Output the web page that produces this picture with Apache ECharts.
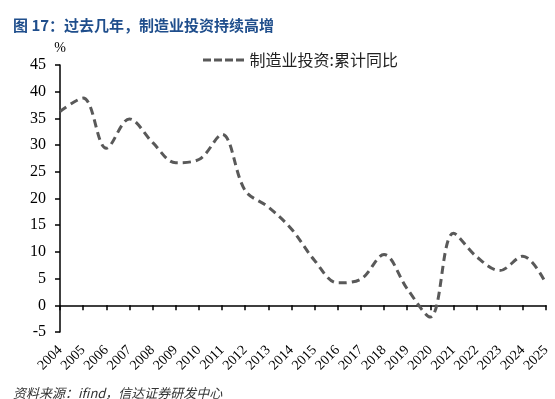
<!DOCTYPE html>
<html>
<head>
<meta charset="utf-8">
<script src="https://cdn.jsdelivr.net/npm/echarts@6/dist/echarts.min.js"></script>
<style>
  html, body { margin: 0; padding: 0; background: #fff; }
  #chart { width: 555px; height: 399px; }
</style>
</head>
<body>
<div id="chart"></div>
<script>
// 年份
const years = ['2004', '2005', '2006', '2007', '2008', '2009', '2010', '2011', '2012', '2013', '2014',
  '2015', '2016', '2017', '2018', '2019', '2020', '2021', '2022', '2023', '2024', '2025']
// 制造业投资:累计同比 (%)
const mfgInvest = [36.3, 38.8, 29.4, 34.9, 30.5, 26.7, 27.3, 32.0, 21.5, 18.4, 14.3,
  8.4, 4.2, 4.9, 9.5, 3.1, -2.2, 13.5, 9.1, 6.5, 9.2, 4.1]
const seriesName = '制造业投资:累计同比'

const chart = echarts.init(document.getElementById('chart'))

const serif = '"Liberation Serif", "Times New Roman", serif'
const cjk = '"Noto Sans CJK SC", sans-serif'
// 图例用的虚线图标
const dashIcon = 'path://M0,0h8v3h-8z M11,0h8v3h-8z M22,0h8v3h-8z M33,0h8v3h-8z'

const option = {
  animation: false,
  title: [{
    text: '图 17：过去几年，制造业投资持续高增',
    left: 8,
    top: 13,
    textStyle: {
      fontSize: 15,
      fontWeight: 'bold',
      color: '#1f4e8c',
      fontFamily: cjk
    }
  }, {
    text: '资料来源：ifind，信达证券研发中心',
    left: 8,
    top: 382,
    textStyle: {
      fontSize: 13,
      fontWeight: 'normal',
      fontStyle: 'italic',
      color: '#333',
      fontFamily: cjk
    }
  }],
  legend: {
    left: 198,
    top: 47,
    itemWidth: 42,
    itemHeight: 3,
    itemGap: 8,
    textStyle: {
      fontSize: 16,
      color: '#222',
      fontFamily: cjk
    },
    data: [{ name: seriesName, icon: dashIcon, itemStyle: { color: '#595959' } }]
  },
  grid: {
    left: 60,
    right: 9,
    top: 65,
    bottom: 67
  },
  xAxis: [{
    type: 'category',
    data: years,
    boundaryGap: false,
    position: 'bottom',
    axisLine: { show: false, onZero: false },
    axisTick: { show: false },
    axisLabel: {
      rotate: 45,
      interval: 0,
      margin: 16,
      fontSize: 14,
      color: '#000',
      fontFamily: serif
    }
  }, {
    type: 'category',
    data: years,
    boundaryGap: false,
    position: 'bottom',
    axisLine: { show: true, onZero: true, lineStyle: { color: '#000', width: 1.5 } },
    axisTick: { show: true, interval: 0, length: 5, lineStyle: { color: '#000', width: 1.5 } },
    axisLabel: { show: false }
  }],
  yAxis: {
    type: 'value',
    min: -5,
    max: 45,
    interval: 5,
    name: '%',
    nameLocation: 'end',
    nameGap: 10,
    nameTextStyle: {
      fontSize: 14,
      color: '#000',
      fontFamily: serif,
      align: 'center'
    },
    axisLine: { show: true, lineStyle: { color: '#000', width: 1.5 } },
    axisTick: { show: true, length: 5, lineStyle: { color: '#000', width: 1.5 } },
    splitLine: { show: false },
    axisLabel: {
      margin: 14,
      fontSize: 16,
      color: '#000',
      fontFamily: serif
    }
  },
  series: [{
    name: seriesName,
    type: 'line',
    xAxisIndex: 1,
    data: mfgInvest,
    smooth: 0.35,
    symbol: 'none',
    lineStyle: {
      color: '#595959',
      width: 3,
      type: [8, 5]
    },
    itemStyle: { color: '#595959' }
  }]
}

chart.setOption(option)
</script>
</body>
</html>
